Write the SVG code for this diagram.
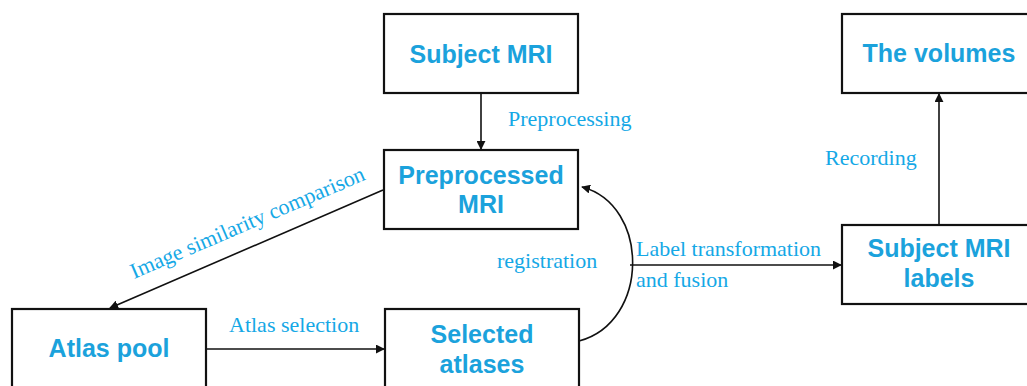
<svg xmlns="http://www.w3.org/2000/svg" width="1027" height="386" viewBox="0 0 1027 386">
<style>
.box{fill:#fff;stroke:#111;stroke-width:2.2}
.nt{font-family:"Liberation Sans",Arial,sans-serif;font-weight:bold;font-size:25px;fill:#1ba2dc;text-anchor:middle}
.et{font-family:"Liberation Serif","Times New Roman",serif;font-size:22px;fill:#15a8e6}
.ln{fill:none;stroke:#111;stroke-width:1.6}
</style>
<defs>
<marker id="ah" viewBox="0 0 10 10" refX="9" refY="5" markerWidth="9" markerHeight="9" markerUnits="userSpaceOnUse" orient="auto">
<path d="M0,0 L10,5 L0,10 z" fill="#111"/>
</marker>
</defs>
<rect width="1027" height="386" fill="#fff"/>
<g id="connectors">
<line class="ln" x1="481" y1="93" x2="481" y2="149" marker-end="url(#ah)"/>
<line class="ln" x1="383" y1="190" x2="110" y2="308" marker-end="url(#ah)"/>
<line class="ln" x1="206" y1="349" x2="384" y2="349" marker-end="url(#ah)"/>
<path class="ln" d="M579 341 C650 322, 650 205, 582 187" marker-end="url(#ah)"/>
<line class="ln" x1="630" y1="265" x2="841" y2="265" marker-end="url(#ah)"/>
<line class="ln" x1="939" y1="225" x2="939" y2="94" marker-end="url(#ah)"/>
<text class="et" x="508" y="126">Preprocessing</text>
<text class="et" transform="translate(134,279) rotate(-23.2)">Image similarity comparison</text>
<text class="et" x="229" y="332">Atlas selection</text>
<text class="et" x="497" y="268">registration</text>
<text class="et" x="636" y="256">Label transformation</text>
<text class="et" x="636" y="287">and fusion</text>
<text class="et" x="825" y="165">Recording</text>
</g>
<g id="subject-mri">
<rect class="box" x="384" y="14" width="194" height="79"/>
<text class="nt" x="481" y="63">Subject MRI</text>
</g>
<g id="preprocessed-mri">
<rect class="box" x="384" y="150" width="194" height="79"/>
<text class="nt" x="481" y="184">Preprocessed</text>
<text class="nt" x="481" y="213">MRI</text>
</g>
<g id="the-volumes">
<rect class="box" x="842" y="14" width="194" height="79"/>
<text class="nt" x="939" y="62">The volumes</text>
</g>
<g id="subject-mri-labels">
<rect class="box" x="842" y="225" width="194" height="79"/>
<text class="nt" x="939" y="257">Subject MRI</text>
<text class="nt" x="939" y="287">labels</text>
</g>
<g id="atlas-pool">
<rect class="box" x="12" y="309" width="194" height="90"/>
<text class="nt" x="109" y="357">Atlas pool</text>
</g>
<g id="selected-atlases">
<rect class="box" x="385" y="309" width="194" height="90"/>
<text class="nt" x="482" y="343">Selected</text>
<text class="nt" x="482" y="373">atlases</text>
</g>
</svg>
